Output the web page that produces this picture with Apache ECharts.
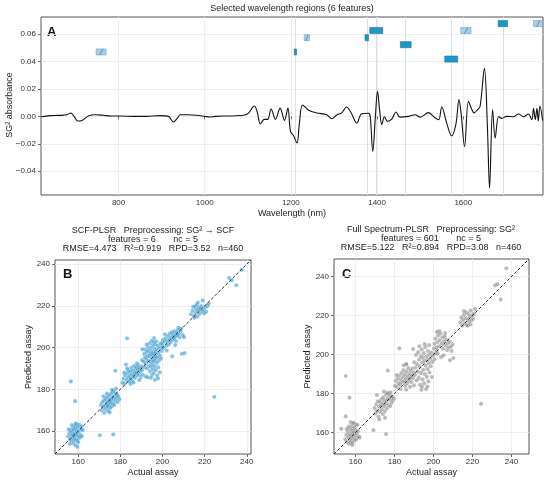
<!DOCTYPE html>
<html><head><meta charset="utf-8">
<script src="https://cdn.jsdelivr.net/npm/echarts@6/dist/echarts.min.js"></script>
<style>html,body{margin:0;padding:0;background:#fff}#c{width:550px;height:483px}</style>
</head><body><div id="c"></div>
<script>
// ---------- DATA ----------
const wavelength = [620.6,641,660,672,680,689,697,705,715,731,746,765,781,804,835,865,896,916,927,937,943,960,982,1000,1012,1024,1044,1065,1082,1095,1102,1115,1122,1129,1138,1146,1154,1164,1175,1185,1193,1199,1206,1214,1220,1227,1241,1260,1283,1295,1306,1318,1329,1339,1353,1364,1380,1384,1390,1396,1401,1406,1411,1417,1424,1434,1444,1453,1473,1488,1500,1519,1535,1543,1550,1562,1573,1583,1590,1595,1603,1612,1620,1625,1633,1639,1649,1656,1661,1668,1674,1682,1689,1701,1716,1728,1740,1751,1759,1763,1767,1771,1774,1778,1784];
const absorbance = [-0.0003,0.0005,0.0007,0.0009,0.0012,0.0024,-0.0002,-0.0034,-0.0030,0.0005,0.0012,0.0008,0.0002,0.0002,0.0,0.0,0.0005,0.0,-0.0041,-0.0012,0.0012,0.0012,0.0008,0.0,-0.0005,0.0,0.0003,0.0003,0.0006,0.0012,0.0025,0.0075,0.003,-0.0056,-0.0022,-0.0022,0.0054,-0.0022,0.006,-0.003,0.006,-0.011,-0.014,-0.0195,-0.004,0.0083,0.0045,0.0025,0.0012,-0.0018,0.001,0.0025,0.0068,0.003,-0.005,0.0019,0.0023,0.0,-0.0256,0.0,0.0183,0.004,-0.0061,-0.0003,-0.0036,-0.002,0.0032,-0.0006,0.0,0.0012,-0.0006,0.0027,-0.0012,-0.0024,0.0068,-0.0055,-0.0142,-0.0055,0.0122,0.002,-0.022,0.011,0.0049,0.0025,0.0049,0.0073,0.035,-0.0078,-0.0525,0.0049,-0.0159,-0.0001,-0.0015,0.0,-0.0003,0.0017,-0.0003,0.0017,-0.0024,0.0058,-0.0024,0.0058,-0.0032,0.0075,-0.003];
// selected regions [start nm, end nm, level]
const selectedRegions = [[1208,1213,0.047],[1372,1380,0.0574],[1383,1413,0.0626],[1454,1479,0.0523],[1557,1587,0.0418],[1681,1703,0.0677]];
const pairedRegions = [[748,771,0.047],[1231,1243,0.0574],[1594,1618,0.0626],[1763,1784,0.0677]];
const featureCenters = [1210,1376,1398,1466,1572,1692];
const specXTicks = [800,1000,1200,1400,1600];
const specYTicks = [-0.04,-0.02,0,0.02,0.04,0.06];
const assayTicks = [160,180,200,220,240];

const scfPoints = [
[155.2,157.5],[155.8,158.9],[156.1,156.2],[156.4,160.1],[156.7,157.8],[156.9,155.1],[157.1,159.4],[157.3,161.2],[157.5,156.6],[157.6,158.3],[157.8,154.2],[157.9,160.6],[158.0,157.1],[158.2,162.5],[158.3,155.6],[158.4,159.0],[158.6,161.5],[158.7,153.2],[158.9,157.9],[159.0,156.0],[159.2,160.3],[159.3,163.2],[159.5,158.6],[159.7,155.4],[159.9,161.9],[160.1,157.4],[160.3,159.8],[160.5,163.0],[160.8,156.8],[161.1,158.2],[161.4,161.0],[161.8,157.5],[162.2,160.4],[156.0,153.8],[157.0,162.8],[158.8,163.6],[159.6,152.4],[160.0,154.6],[161.6,162.3],[155.5,160.8],
[170.8,172.5],[171.2,169.9],[171.5,173.8],[171.9,171.2],[172.2,174.6],[172.4,168.7],[172.7,172.1],[173.0,175.3],[173.2,170.4],[173.5,173.4],[173.7,176.2],[173.9,171.6],[174.1,174.0],[174.3,169.5],[174.5,177.0],[174.7,172.8],[174.9,175.1],[175.1,170.9],[175.3,173.6],[175.5,177.8],[175.7,174.7],[175.9,171.8],[176.1,176.0],[176.3,178.7],[176.5,173.2],[176.7,175.5],[176.9,179.3],[177.1,172.5],[177.3,176.8],[177.5,174.4],[177.8,178.1],[178.1,175.6],[178.4,177.3],[178.7,173.9],[179.0,176.5],[179.5,175.2],[173.6,178.0],[172.0,176.6],[175.0,168.9],[176.0,179.8],[178.0,180.3],[174.0,172.0],
[181.0,183.2],[181.5,185.1],[182.0,182.6],[182.3,186.8],[182.7,191.9],[183.0,184.4],[183.3,187.9],[183.6,185.7],[183.9,189.1],[184.2,183.8],[184.4,186.5],[184.7,188.4],[185.0,185.2],[185.2,190.3],[185.5,187.2],[185.7,184.0],[186.0,189.0],[186.2,186.1],[186.5,191.2],[186.7,187.8],[187.0,185.5],[187.2,189.8],[187.5,188.1],[187.7,190.6],[188.0,186.6],[188.3,189.4],[188.5,191.5],[188.8,187.3],[189.1,190.1],[189.4,188.6],[189.7,185.9],[190.0,191.0],[190.3,189.2],[190.6,187.0],[184.8,182.6],[186.3,183.2],[183.2,190.0],[187.9,192.4],[181.8,188.0],[189.0,184.4],
[177.6,188.9],[192.0,186.2],[183.2,204.5],[156.5,183.8],[158.6,174.3],[170.3,158.0],[176.6,158.4],[224.6,176.4],
[191.1,193.2],[191.3,197.0],[191.5,190.5],[191.7,195.3],[191.9,199.1],[192.1,192.4],[192.3,194.6],[192.5,197.9],[192.7,190.0],[192.9,196.2],[193.1,200.4],[193.3,193.6],
[193.5,198.6],[193.6,191.3],[193.8,195.7],[194.0,202.1],[194.1,188.7],[194.2,197.3],[194.4,193.0],[194.5,199.8],[194.6,190.8],[194.8,196.6],[194.9,203.3],[195.0,186.9],
[195.1,194.2],[195.2,198.0],[195.3,191.9],[195.4,200.9],[195.5,189.6],[195.6,196.0],[195.7,193.4],[195.8,202.6],[195.9,187.8],[196.0,197.2],[196.1,195.0],[196.2,199.4],[196.3,191.0],[196.4,184.5],[196.5,201.5],[196.6,193.9],[196.7,197.9],[196.8,189.2],[196.9,195.8],[197.0,203.0],
[197.2,192.6],[197.3,199.0],[197.5,186.6],[197.6,195.3],[197.8,201.0],[198.0,190.5],[198.1,197.4],[198.3,193.7],[198.5,199.9],[198.7,188.2],[198.9,196.0],[199.1,202.0],[199.3,194.7],[199.6,198.4],[199.9,200.6],[193.0,185.8],[192.5,201.5],[190.5,199.2],[190.3,194.0],[196.0,204.6],[194.5,185.5],[197.9,185.2],
[199.8,201.9],[200.2,203.6],[200.6,199.8],[201.0,202.8],[201.4,204.5],[201.8,200.9],[202.2,203.2],[202.6,205.6],[203.0,201.5],[203.3,204.1],[203.6,206.8],[203.9,202.6],[204.2,205.0],[204.5,207.4],[204.6,195.8],[204.9,203.8],[205.2,206.1],[205.5,204.4],[205.8,207.8],[206.1,205.3],[206.4,203.1],[206.7,207.0],[207.0,205.9],[207.3,208.4],[207.7,206.5],[208.1,204.9],[208.5,207.6],[208.9,209.0],[209.2,197.0],[210.5,197.4],[209.6,206.0],[210.2,205.0],[202.0,198.6],[206.0,201.2],[207.6,209.6],[201.2,206.3],
[213.5,216.0],[214.2,217.6],[214.6,219.5],[215.0,215.2],[215.4,219.8],[215.7,216.8],[216.0,218.4],[216.3,220.5],[216.6,214.9],[217.0,217.7],[217.3,219.2],[217.6,216.2],[218.0,218.7],[218.4,220.0],[218.8,217.3],[219.1,222.6],[219.5,218.0],[219.8,216.4],[220.2,219.4],[220.7,217.2],[221.3,219.9],[221.9,221.0],[216.8,221.6],[215.2,214.3],
[231.6,233.4],[232.9,232.3],[235.0,229.9],[237.6,237.3]];

const fullPoints = [
[154.8,156.5],[155.3,158.8],[155.7,155.2],[156.0,160.5],[156.3,157.6],[156.6,154.3],[156.9,159.2],[157.1,162.0],[157.3,156.0],[157.5,158.4],[157.7,155.0],[157.9,160.9],[158.0,163.4],[158.2,157.0],[158.4,159.8],[158.5,154.7],[158.7,161.9],[158.9,164.6],[159.0,157.8],[159.2,160.0],[159.4,155.9],[159.6,162.7],[159.8,158.6],[160.0,161.2],[160.3,163.9],[160.6,159.4],[160.9,157.3],[161.3,160.7],[161.7,158.0],[162.1,157.4],[157.6,165.3],[159.1,165.0],[156.4,163.0],[158.3,153.6],[160.2,156.3],[155.5,161.8],[152.7,161.9],[161.0,164.0],
[155.0,189.0],[156.9,177.9],[155.0,168.3],[169.2,161.2],[175.7,159.2],[224.4,174.7],[176.6,191.8],[182.5,203.2],
[169.8,172.5],[170.3,169.8],[170.7,174.4],[171.1,171.0],[171.5,176.0],[171.8,168.2],[172.1,173.2],[172.4,175.8],[172.7,170.6],[173.0,174.0],[173.3,177.2],[173.5,171.8],[173.8,175.0],[174.1,169.4],[174.3,178.0],[174.6,173.3],[174.9,176.4],[175.1,171.0],[175.4,174.5],[175.7,179.4],[176.0,176.1],[176.2,172.4],[176.5,177.4],[176.8,180.0],[177.0,174.1],[177.3,176.9],[177.6,179.0],[177.9,173.6],[178.2,177.8],[178.5,175.3],[178.8,178.6],[179.2,176.4],[179.6,177.5],[172.2,166.8],[175.2,167.5],[176.4,180.3],[174.6,181.0],[171.0,179.2],[178.0,180.6],
[180.2,184.0],[180.7,186.5],[181.2,183.4],[181.6,187.8],[182.0,185.3],[182.4,189.2],[182.8,184.6],[183.2,187.0],[183.6,190.5],[184.0,185.8],[184.3,188.4],[184.6,192.0],[185.0,186.4],[185.3,189.7],[185.6,184.0],[185.9,187.5],[186.2,191.2],[186.5,185.2],[186.8,188.8],[187.1,193.0],[187.4,186.6],[187.7,190.0],[188.0,187.9],[188.3,191.6],[188.6,185.9],[188.9,189.3],[189.2,192.8],[189.5,188.0],[189.8,190.8],[183.0,182.4],[186.0,182.0],[181.0,189.5],[186.0,195.0],[184.7,194.5],[188.0,183.4],
[190.2,196.0],[190.5,189.5],[190.8,193.3],[191.1,199.8],[191.4,186.8],[191.7,195.0],[192.0,191.2],[192.2,201.2],[192.5,188.0],[192.7,197.5],[193.0,193.8],[193.2,184.5],[193.5,199.2],[193.7,190.6],[194.0,202.6],[194.2,195.9],[194.4,187.3],[194.6,198.4],[194.8,192.2],[195.0,200.7],[195.2,185.2],[195.4,196.8],[195.6,190.0],[195.8,203.8],[196.0,194.3],[196.2,182.3],[196.4,199.0],[196.6,188.6],[196.8,197.2],[197.0,192.5],[197.2,201.8],[197.4,186.2],[197.6,195.6],[197.8,199.9],[198.0,190.8],[198.3,197.8],[198.6,194.0],[198.9,201.0],[199.2,188.5],[199.5,196.2],[199.8,199.3],[200.2,203.0],[200.6,197.6],[201.0,200.5],[201.5,202.0],[193.8,181.9],[196.9,183.6],[192.8,204.2],[195.5,205.3],[190.0,184.2],[189.6,202.8],[186.1,195.1],[197.8,204.8],[194.1,183.5],
[200.5,205.5],[201.0,208.2],[201.5,203.6],[202.0,206.4],[202.4,209.8],[202.8,204.2],[203.2,207.4],[203.6,210.8],[203.9,198.7],[204.2,205.6],[204.6,208.8],[205.0,203.0],[205.4,206.8],[205.8,209.3],[206.2,204.6],[206.6,207.6],[207.0,202.3],[207.4,205.8],[207.8,203.6],[208.2,206.6],[208.5,197.1],[208.9,204.0],[209.3,201.8],[210.2,198.2],[209.8,205.2],[205.2,199.6],[202.2,200.5],[203.0,212.0],[206.0,211.0],[201.8,211.6],
[213.8,216.5],[214.3,219.0],[214.8,214.8],[215.2,217.8],[215.6,220.4],[216.0,216.0],[216.4,218.7],[216.8,221.6],[217.2,215.0],[217.5,218.0],[217.9,220.8],[218.3,216.8],[218.7,219.5],[219.1,222.5],[219.5,217.6],[219.9,220.2],[220.3,218.3],[220.8,221.0],[221.3,223.3],[217.6,214.9],[215.6,222.3],[219.0,215.4],
[231.6,235.5],[232.8,236.1],[234.5,228.2],[237.4,244.2]];

const specRange = [620, 1785];
const absRange = [-0.0574, 0.0725];
const scfRange = [149, 242];
const fullRange = [149, 249];

// ---------- CHART ----------
const FONT = 'Liberation Sans';
const chart = echarts.init(document.getElementById('c'), null, {renderer:'canvas'});
const fmtAbs = v => (v < 0 ? '\u2212' : '') + Math.abs(v).toFixed(2);
function axis(range, ticks, grid, fmt, name, nameGap, isY){
  return {
    type:'value', gridIndex:grid, min:range[0], max:range[1],
    axisLine:{show:false},
    axisTick:{show:true, length:3, lineStyle:{color:'#444', width:0.8}, customValues:ticks},
    axisLabel:{color:'#333', fontSize:8, fontFamily:FONT, margin:isY?5:4, customValues:ticks, formatter:fmt,
      showMinLabel:true, showMaxLabel:true},
    splitLine:{show:true, lineStyle:{color:'#ebebeb', width:0.8}},
    name:name, nameLocation:'middle', nameGap:nameGap,
    nameTextStyle:{color:'#222', fontSize:9, fontFamily:FONT}
  };
}
const intFmt = v => String(Math.round(v));
const H = 0.0044;
function rectRender(light){
  return function(params, api){
    const p0 = api.coord([api.value(0), api.value(2) + H/2]);
    const p1 = api.coord([api.value(1), api.value(2) - H/2]);
    const x = p0[0], y = p0[1], w = p1[0]-p0[0], h = p1[1]-p0[1];
    const children = [{type:'rect', shape:{x:x, y:y, width:w, height:h},
      style: light ? {fill:'#a8cfe6', stroke:'#6fa3c4', lineWidth:0.6} : {fill:'#1899c9', stroke:'#1a6d93', lineWidth:0.6}}];
    if (light) children.push({type:'line', shape:{x1:x+w*0.35, y1:y+h, x2:x+w*0.7, y2:y}, style:{stroke:'#3f7396', lineWidth:0.7}});
    return {type:'group', children:children};
  };
}
const ptStyle = c => ({color:c, borderColor:'rgba(255,255,255,0.6)', borderWidth:0.4});
const gridBase = {show:true, borderColor:'#555', borderWidth:1, backgroundColor:'transparent', containLabel:false, outerBoundsMode:'none'};
const specYAxis = axis(absRange, specYTicks, 0, fmtAbs, '', 0, true);
delete specYAxis.name;

const option = {
  animation:false,
  backgroundColor:'#fff',
  textStyle:{fontFamily:FONT},
  grid:[
    Object.assign({left:41, top:17, width:502, height:178}, gridBase),
    Object.assign({left:55, top:260, width:196, height:194}, gridBase),
    Object.assign({left:334, top:259, width:195, height:195}, gridBase)
  ],
  xAxis:[
    axis(specRange, specXTicks, 0, intFmt, 'Wavelength (nm)', 14, false),
    axis(scfRange, assayTicks, 1, intFmt, 'Actual assay', 14, false),
    axis(fullRange, assayTicks, 2, intFmt, 'Actual assay', 14, false)
  ],
  yAxis:[
    specYAxis,
    axis(scfRange, assayTicks, 1, intFmt, 'Predicted assay', 21, true),
    axis(fullRange, assayTicks, 2, intFmt, 'Predicted assay', 22, true)
  ],
  series:[
    {type:'line', xAxisIndex:0, yAxisIndex:0, data:wavelength.map((w,i)=>[w, absorbance[i]]),
     smooth:0.35, showSymbol:false, symbol:'none', lineStyle:{color:'#111', width:1.1}, z:3,
     markLine:{silent:true, symbol:'none', label:{show:false}, lineStyle:{color:'#cfe3f0', width:1, type:'solid'},
       data:featureCenters.map(v=>({xAxis:v})), z:1}},
    {type:'custom', xAxisIndex:0, yAxisIndex:0, renderItem:rectRender(false), data:selectedRegions, z:4},
    {type:'custom', xAxisIndex:0, yAxisIndex:0, renderItem:rectRender(true), data:pairedRegions, z:4},
    {type:'scatter', xAxisIndex:1, yAxisIndex:1, data:scfPoints, symbolSize:4.2, itemStyle:ptStyle('rgba(45,150,205,0.72)'), z:2},
    {type:'line', xAxisIndex:1, yAxisIndex:1, data:[[scfRange[0],scfRange[0]],[scfRange[1],scfRange[1]]], symbol:'none',
     lineStyle:{color:'#111', width:0.9, type:[3,2]}, z:3},
    {type:'scatter', xAxisIndex:2, yAxisIndex:2, data:fullPoints, symbolSize:4.2, itemStyle:ptStyle('rgba(135,135,135,0.72)'), z:2},
    {type:'line', xAxisIndex:2, yAxisIndex:2, data:[[fullRange[0],fullRange[0]],[fullRange[1],fullRange[1]]], symbol:'none',
     lineStyle:{color:'#111', width:0.9, type:[3,2]}, z:3}
  ],
  graphic:[
    {type:'text', x:292, y:9, style:{text:'Selected wavelength regions (6 features)', textAlign:'center', textVerticalAlign:'middle', font:'9px '+FONT, fill:'#222'}},
    {type:'text', x:10, y:105, rotation:Math.PI/2, style:{text:'SG\u00B2 absorbance', textAlign:'center', textVerticalAlign:'middle', font:'9px '+FONT, fill:'#222'}},
    {type:'text', x:47, y:32, style:{text:'A', textAlign:'left', textVerticalAlign:'middle', font:'bold 13px '+FONT, fill:'#111'}},
    {type:'text', x:63, y:274, style:{text:'B', textAlign:'left', textVerticalAlign:'middle', font:'bold 13px '+FONT, fill:'#111'}},
    {type:'text', x:342, y:274, style:{text:'C', textAlign:'left', textVerticalAlign:'middle', font:'bold 13px '+FONT, fill:'#111'}},
    {type:'text', x:153, y:231, style:{text:'SCF-PLSR   Preprocessing: SG\u00B2 \u2192 SCF', textAlign:'center', textVerticalAlign:'middle', font:'9px '+FONT, fill:'#222'}},
    {type:'text', x:153, y:240, style:{text:'features = 6       nc = 5', textAlign:'center', textVerticalAlign:'middle', font:'9px '+FONT, fill:'#222'}},
    {type:'text', x:153, y:249, style:{text:'RMSE=4.473   R\u00B2=0.919   RPD=3.52   n=460', textAlign:'center', textVerticalAlign:'middle', font:'9px '+FONT, fill:'#222'}},
    {type:'text', x:431, y:230, style:{text:'Full Spectrum-PLSR   Preprocessing: SG\u00B2', textAlign:'center', textVerticalAlign:'middle', font:'9px '+FONT, fill:'#222'}},
    {type:'text', x:431, y:239, style:{text:'features = 601       nc = 5', textAlign:'center', textVerticalAlign:'middle', font:'9px '+FONT, fill:'#222'}},
    {type:'text', x:431, y:248, style:{text:'RMSE=5.122   R\u00B2=0.894   RPD=3.08   n=460', textAlign:'center', textVerticalAlign:'middle', font:'9px '+FONT, fill:'#222'}}
  ]
};
chart.setOption(option);
</script></body></html>
